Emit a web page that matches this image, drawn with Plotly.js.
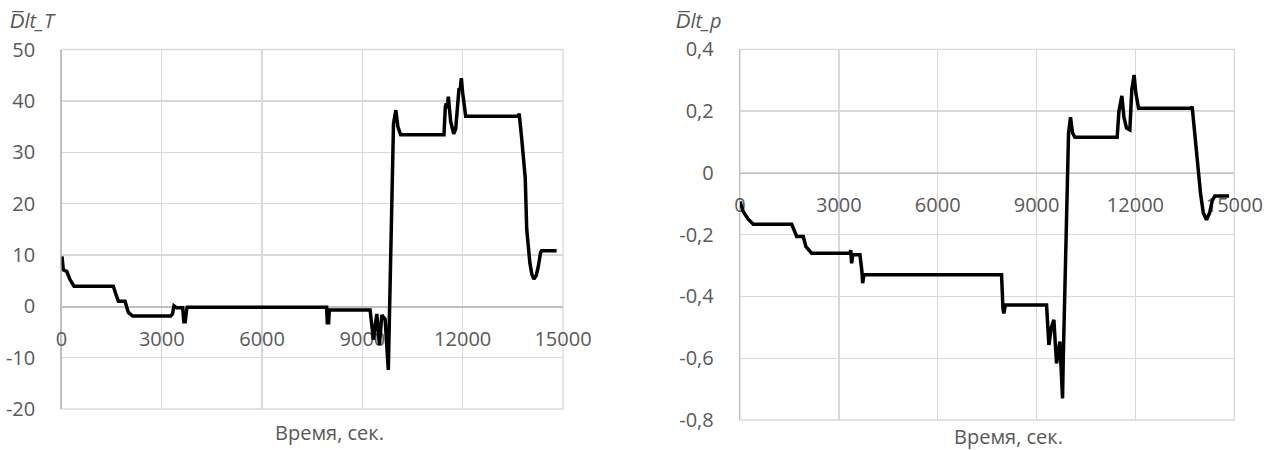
<!DOCTYPE html>
<html>
<head>
<meta charset="utf-8">
<script src="https://cdn.plot.ly/plotly-3.0.1.min.js"></script>
<style>html,body{margin:0;padding:0;background:#fff;}#chart{width:1266px;height:450px;}</style>
</head>
<body>
<div id="chart"></div>
<script>
// ---- data ----
var timeT = [15,54,156,254,374,1550,1620,1700,1900,2000,2130,3267,3320,3365,3445,3625,3660,3700,3745,3760,7930,7950,7990,8010,9230,
  9330,9430,9510,9580,9680,9775,9795,9850,9900,9930,10000,10060,10145,11440,11480,11510,11540,11570,11640,11730,11790,11850,11890,11920,11960,12000,12090,13650,13690,13760,13830,13870,13915,13960,14010,14070,14130,14200,14260,14330,14360,14810];
var valT = [9.7,7.1,6.8,5.2,3.9,3.9,2.5,1.0,1.0,-1.2,-1.9,-1.9,-1.5,0.1,-0.3,-0.3,-3.0,-3.0,-0.6,-0.2,-0.2,-3.2,-3.2,-0.7,-0.7,
  -6.5,-1.5,-7.5,-1.7,-2.5,-12.4,-5,12,30,35.5,38.2,35,33.4,33.4,38.8,39.5,38.6,40.8,36,33.6,34.5,40,42.5,42,44.4,41.5,37,37,37.5,33,28,25,15,11,8.4,6.2,5.3,6,7.7,10.5,10.8,10.8];

var timeP = [0,100,250,404,1568,1650,1720,1920,2000,2175,3337,3360,3388,3420,3640,3700,3722,3760,7937,7980,8007,8050,9303,
  9373,9450,9525,9606,9706,9788,9810,9879,9928,9970,10030,10090,10161,11445,11500,11588,11650,11730,11830,11890,11960,12010,12094,13700,13720,13790,13852,13975,14060,14157,14250,14330,14409,14842];
var valP = [-0.093,-0.126,-0.15,-0.166,-0.166,-0.19,-0.206,-0.206,-0.239,-0.26,-0.26,-0.25,-0.293,-0.265,-0.265,-0.32,-0.357,-0.33,-0.33,-0.44,-0.455,-0.428,-0.428,
  -0.557,-0.5,-0.476,-0.617,-0.546,-0.73,-0.6,-0.27,0,0.128,0.18,0.13,0.115,0.115,0.2,0.249,0.18,0.145,0.139,0.27,0.317,0.26,0.209,0.209,0.215,0.13,0.074,-0.066,-0.13,-0.152,-0.13,-0.09,-0.075,-0.075];

var xTickVals = [0,3000,6000,9000,12000,15000];
var xTickText = ['0','3000','6000','9000','12000','15000'];
var yTickValsT = [-20,-10,0,10,20,30,40,50];
var yTickTextT = ['-20','-10','0','10','20','30','40','50'];
var yTickValsP = [-0.8,-0.6,-0.4,-0.2,0,0.2,0.4];
var yTickTextP = ['-0,8','-0,6','-0,4','-0,2','0','0,2','0,4'];
var titleT = 'D\u0305lt_T';
var titleP = 'D\u0305lt_p';
var xTitle = 'Время, сек.';

// ---- layout geometry ----
var W = 1266, H = 450;
function px(x){return x/W;}
function py(y){return (H-y)/H;}
var font = {family:'Open Sans, sans-serif', size:20, color:'#595959'};
var grid = '#d9d9d9', axisLine = '#bfbfbf';

var yDomT = [py(409), py(49.5)];
var yDomP = [py(420), py(49.3)];
var yRangeT = [-20,50], yRangeP = [-0.8,0.4];
function zeroPos(dom, r){return dom[0] + (dom[1]-dom[0])*(0-r[0])/(r[1]-r[0]);}

var traces = [
  {x: timeT, y: valT, xaxis:'x', yaxis:'y', mode:'lines', line:{color:'#000', width:3.5}, hoverinfo:'skip', cliponaxis:false},
  {x: timeP, y: valP, xaxis:'x2', yaxis:'y2', mode:'lines', line:{color:'#000', width:3.5}, hoverinfo:'skip', cliponaxis:false}
];

function xAxis(dom, pos){
  return {domain:dom, range:[0,15000], anchor:'free', position:pos, layer:'below traces',
    tickmode:'array', tickvals:xTickVals, ticktext:xTickText,
    showgrid:true, gridcolor:grid, gridwidth:1.3, zeroline:false,
    showline:true, linecolor:axisLine, linewidth:1.3,
    ticks:'outside', ticklen:14, tickcolor:'rgba(0,0,0,0)', tickfont:font};
}
function yAxis(dom, r, tv, tt, anchor){
  return {domain:dom, range:r, anchor:anchor, layer:'below traces',
    tickmode:'array', tickvals:tv, ticktext:tt,
    showgrid:true, gridcolor:grid, gridwidth:1.3, zeroline:false,
    showline:true, linecolor:axisLine, linewidth:1.3,
    ticks:'outside', ticklen:21, tickcolor:'rgba(0,0,0,0)', tickfont:font};
}
function frame(xr, yr){
  return {type:'rect', xref:xr+' domain', yref:yr+' domain', x0:0, x1:1, y0:0, y1:1,
    line:{color:grid, width:1.3}, fillcolor:'rgba(0,0,0,0)', layer:'below'};
}

var layout = {
  width:W, height:H, margin:{l:0,r:0,t:0,b:0},
  paper_bgcolor:'#fff', plot_bgcolor:'#fff', showlegend:false,
  xaxis: xAxis([px(61.5), px(563)], zeroPos(yDomT, yRangeT)),
  yaxis: yAxis(yDomT, yRangeT, yTickValsT, yTickTextT, 'x'),
  xaxis2: xAxis([px(740), px(1234.3)], zeroPos(yDomP, yRangeP)),
  yaxis2: yAxis(yDomP, yRangeP, yTickValsP, yTickTextP, 'x2'),
  shapes: [frame('x','y'), frame('x2','y2')],
  annotations: [
    {xref:'paper', yref:'paper', x:px(8), y:py(21), xanchor:'left', yanchor:'middle', showarrow:false, text:'<i>'+titleT+'</i>', font:font},
    {xref:'paper', yref:'paper', x:px(674), y:py(21), xanchor:'left', yanchor:'middle', showarrow:false, text:'<i>'+titleP+'</i>', font:font},
    {xref:'paper', yref:'paper', x:px(329), y:py(432), xanchor:'center', yanchor:'middle', showarrow:false, text:xTitle, font:font},
    {xref:'paper', yref:'paper', x:px(1008), y:py(436), xanchor:'center', yanchor:'middle', showarrow:false, text:xTitle, font:font}
  ]
};

Plotly.newPlot('chart', traces, layout, {staticPlot:true, displayModeBar:false});
</script>
</body>
</html>
